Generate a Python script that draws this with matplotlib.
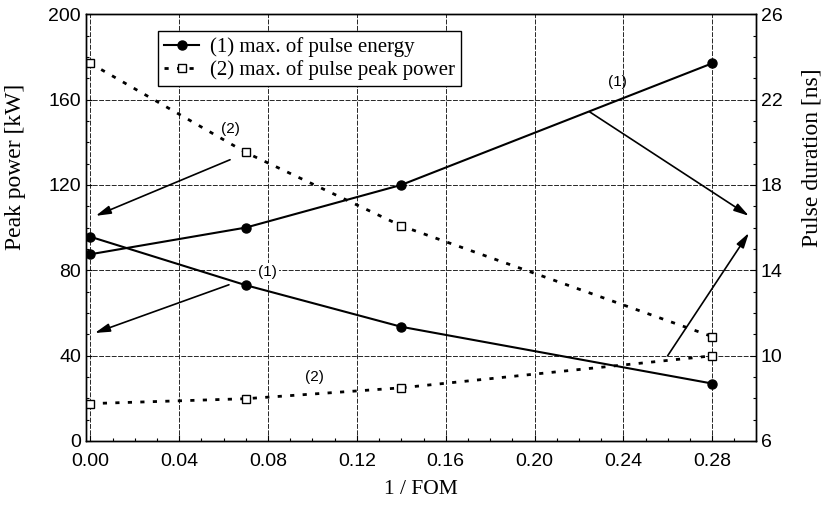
import matplotlib.pyplot as plt
from matplotlib.ticker import MultipleLocator

# data
inv_fom = [0.0, 0.07, 0.14, 0.28]
power_energy = [95.7, 73.0, 53.5, 26.9]      # (1) peak power [kW]
power_peak = [177.0, 135.2, 100.8, 48.9]     # (2) peak power [kW]
dur_energy = [14.75, 16.0, 18.0, 23.7]       # (1) pulse duration [ns]
dur_peak = [7.75, 7.98, 8.49, 9.99]          # (2) pulse duration [ns]

x_ticks = [0.0, 0.04, 0.08, 0.12, 0.16, 0.20, 0.24, 0.28]
power_ticks = [0, 40, 80, 120, 160, 200]
dur_ticks = [6, 10, 14, 18, 22, 26]
legend_labels = ["(1) max. of pulse energy", "(2) max. of pulse peak power"]

sans = "Liberation Sans"
serif = "Liberation Serif"

fig = plt.figure(figsize=(8.26, 5.08), dpi=100)
ax = fig.add_axes([0.104, 0.132, 0.811, 0.840])
ax2 = ax.twinx()

solid = dict(color="black", linestyle="-", linewidth=1.5, marker="o",
             markersize=6.5, markerfacecolor="black")
dotted = dict(color="black", linestyle=(0, (1.5, 3.0)), linewidth=2.0,
              marker="s", markersize=6, markerfacecolor="white",
              markeredgewidth=1.0)

h1, = ax.plot(inv_fom, power_energy, **solid)
h2, = ax.plot(inv_fom, power_peak, **dotted)
ax2.plot(inv_fom, dur_energy, **solid)
ax2.plot(inv_fom, dur_peak, **dotted)

ax.set_xlim(-0.002, 0.2996)
ax.set_ylim(0, 200)
ax2.set_ylim(6, 26)

ax.set_xticks(x_ticks)
ax.set_xticklabels([f"{v:.2f}" for v in x_ticks])
ax.xaxis.set_minor_locator(MultipleLocator(0.01))
ax.set_yticks(power_ticks)
ax.yaxis.set_minor_locator(MultipleLocator(10))
ax2.set_yticks(dur_ticks)
ax2.yaxis.set_minor_locator(MultipleLocator(1))

for a in (ax, ax2):
    a.tick_params(which="both", direction="in", labelsize=14, width=0.8)
    a.tick_params(which="major", length=4)
    a.tick_params(which="minor", length=2)
    for lab in a.get_xticklabels() + a.get_yticklabels():
        lab.set_fontfamily(sans)
    for s in a.spines.values():
        s.set_linewidth(1.0)
ax.tick_params(axis="x", pad=9)

ax.grid(True, which="major", color="0.15", linestyle=(0, (5, 1.5)), linewidth=0.7)
ax.set_axisbelow(True)

ax.set_xlabel("1 / FOM", fontfamily=serif, fontsize=15.5, labelpad=7)
ax.set_ylabel("Peak power [kW]", fontfamily=serif, fontsize=17)
ax2.set_ylabel("Pulse duration [ns]", fontfamily=serif, fontsize=17)
ax.yaxis.set_label_coords(-0.089, 0.642)
ax2.yaxis.set_label_coords(1.068, 0.663)

leg = ax.legend([h1, h2], legend_labels, loc="upper left",
                bbox_to_anchor=(0.107, 0.960), fancybox=False, framealpha=1,
                edgecolor="black", prop={"family": serif, "size": 15},
                handlelength=1.7, borderpad=0.3, labelspacing=0.12,
                handletextpad=0.5, borderaxespad=0)
leg.get_frame().set_linewidth(1.0)

# curve labels and arrows
arrow = dict(arrowstyle="-|>,head_length=0.9,head_width=0.25", color="black",
             linewidth=1.2, shrinkA=0, shrinkB=0)
ax.annotate("", xy=(0.0024, 105.5), xytext=(0.0629, 131.8), arrowprops=arrow)
ax.annotate("", xy=(0.0020, 50.6), xytext=(0.0624, 73.2), arrowprops=arrow)
ax.annotate("", xy=(0.2965, 105.5), xytext=(0.2247, 154.3), arrowprops=arrow)
ax.annotate("", xy=(0.2965, 97.5), xytext=(0.2599, 39.9), arrowprops=arrow)

lab = dict(fontfamily=sans, fontsize=11, ha="center", va="center")
ax.text(0.0629, 146.3, "(2)", **lab)
ax.text(0.2375, 168.3, "(1)", **lab)
ax.text(0.0796, 79.3, "(1)", bbox=dict(facecolor="white", edgecolor="none", pad=1.5), **lab)
ax.text(0.1008, 30.0, "(2)", **lab)

fig.savefig("out.png", dpi=100)
